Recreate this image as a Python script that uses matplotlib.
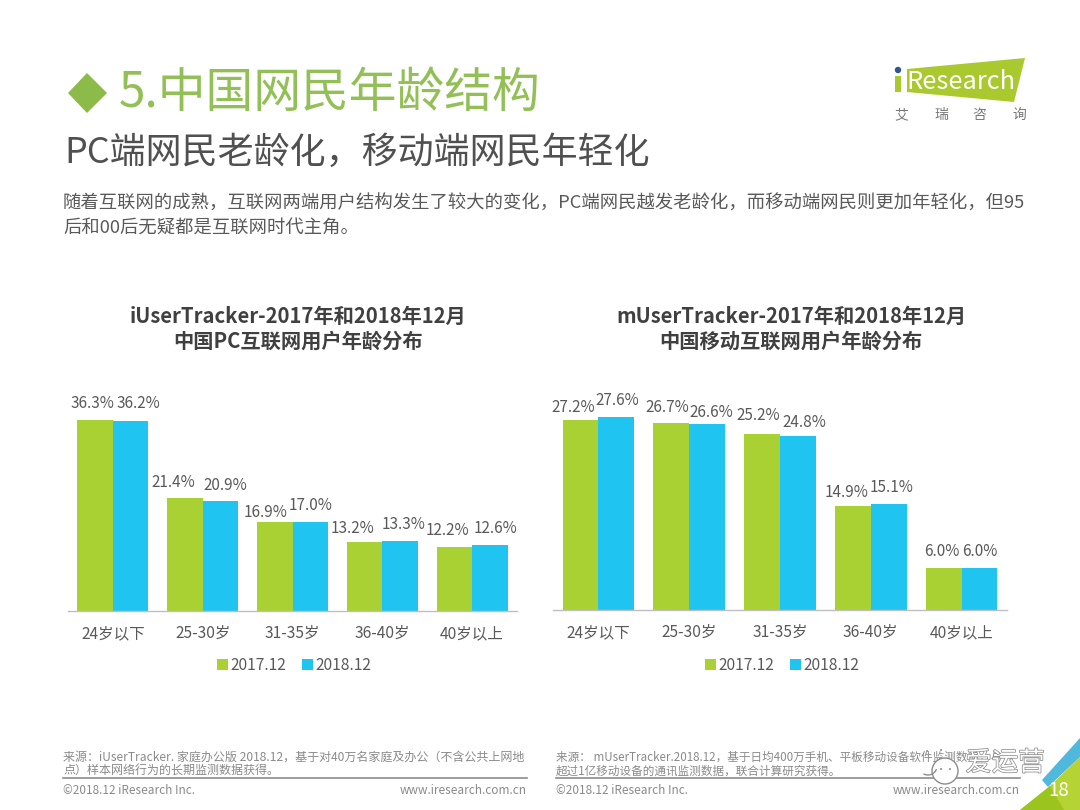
import matplotlib
matplotlib.use('Agg')
import matplotlib.pyplot as plt
import matplotlib.patheffects as pe
import numpy as np
from matplotlib.patches import Polygon, Circle, Arc

plt.rcParams['font.family'] = ['Noto Sans CJK SC', 'DejaVu Sans']

categories = ['24岁以下', '25-30岁', '31-35岁', '36-40岁', '40岁以上']
series_names = ['2017.12', '2018.12']
pc_2017 = [36.3, 21.4, 16.9, 13.2, 12.2]
pc_2018 = [36.2, 20.9, 17.0, 13.3, 12.6]
mobile_2017 = [27.2, 26.7, 25.2, 14.9, 6.0]
mobile_2018 = [27.6, 26.6, 24.8, 15.1, 6.0]
pc_title = 'iUserTracker-2017年和2018年12月\n中国PC互联网用户年龄分布'
mobile_title = 'mUserTracker-2017年和2018年12月\n中国移动互联网用户年龄分布'

GREEN = '#A9D134'
BLUE = '#1FC5F0'
TEXT = '#595959'
W, H = 1080, 810

fig = plt.figure(figsize=(W / 100, H / 100), dpi=100, facecolor='white')

# pixel-space overlay for slide furniture
bg = fig.add_axes([0, 0, 1, 1], zorder=0)
bg.set_xlim(0, W)
bg.set_ylim(H, 0)
bg.axis('off')

bg.add_patch(Polygon([(68, 93), (87, 73), (107, 93), (87, 113)], color='#8CBB4A', lw=0))
bg.text(119, 93, '5.中国网民年龄结构', fontsize=34.4, color='#93C056', va='center', ha='left')
bg.text(64, 153, 'PC端网民老龄化，移动端网民年轻化', fontsize=25.9, color='#505050', va='center', ha='left')
bg.text(63, 204, '随着互联网的成熟，互联网两端用户结构发生了较大的变化，PC端网民越发老龄化，而移动端网民则更加年轻化，但95',
        fontsize=13.2, color=TEXT, va='center', ha='left')
bg.text(63, 229, '后和00后无疑都是互联网时代主角。', fontsize=13.2, color=TEXT, va='center', ha='left')

# logo
bg.add_patch(Polygon([(907, 69), (1025, 58), (1014, 102), (907, 92)], color='#A9C92F', lw=0))
bg.add_patch(Circle((898, 70), 3.2, color='#2F5597', lw=0))
bg.add_patch(Polygon([(895, 76), (901, 76), (901, 92), (895, 92)], color='#A9C92F', lw=0))
bg.text(906, 82, 'Research', fontsize=18.3, color='#FFFFFF', va='center', ha='left')
for x, ch in zip([901, 941, 979, 1019], '艾瑞咨询'):
    bg.text(x, 115, ch, fontsize=10, color='#777777', va='center', ha='center')

# corner decoration
bg.add_patch(Polygon([(1080, 757), (1080, 810), (1020, 810), (1050, 786)], color='#B5D334', lw=0))
bg.add_patch(Polygon([(1020, 810), (1050, 786), (1064, 810)], color='#9CC41F', lw=0))
bg.add_patch(Polygon([(1042, 780), (1080, 738), (1080, 757), (1048, 787)], color='#4FB8DC', lw=0))
bg.text(1059, 791, '18', fontsize=13.5, color='#FFFFFF', va='center', ha='center')

# footers
GREY = '#8A8A8A'
bg.plot([63, 527], [778, 778], color='#8C8C8C', lw=1.2)
bg.plot([556, 1020], [778, 778], color='#8C8C8C', lw=1.2)
bg.text(63, 757, '来源：iUserTracker. 家庭办公版 2018.12，基于对40万名家庭及办公（不含公共上网地', fontsize=8.65, color=GREY, va='center')
bg.text(63, 771, '点）样本网络行为的长期监测数据获得。', fontsize=8.65, color=GREY, va='center')
bg.text(556, 757, '来源： mUserTracker.2018.12，基于日均400万手机、平板移动设备软件监测数据，与', fontsize=8.35, color=GREY, va='center')
bg.text(556, 771, '超过1亿移动设备的通讯监测数据，联合计算研究获得。', fontsize=8.35, color=GREY, va='center')
bg.text(63, 791, '©2018.12 iResearch Inc.', fontsize=8.5, color=GREY, va='center')
bg.text(527, 791, 'www.iresearch.com.cn', fontsize=8.5, color=GREY, va='center', ha='right')
bg.text(556, 791, '©2018.12 iResearch Inc.', fontsize=8.5, color=GREY, va='center')
bg.text(1020, 791, 'www.iresearch.com.cn', fontsize=8.5, color=GREY, va='center', ha='right')

# watermark
bg.add_patch(Circle((945, 771), 13, fc='white', ec='#8C8C8C', lw=1, zorder=3))
bg.add_patch(Arc((928, 766), 18, 18, theta1=20, theta2=120, ec='#8C8C8C', lw=1, zorder=3))
for px, py in [(941, 769), (950, 769), (927, 751), (941, 750)]:
    bg.add_patch(Circle((px, py), 1.0, color='#8C8C8C', lw=0, zorder=3))
bg.text(1005, 763, '爱运营', fontsize=19, color='#FFFFFF', va='center', ha='center', zorder=3,
        path_effects=[pe.Stroke(linewidth=1.1, foreground='#8C8C8C'), pe.Normal()])


def bar_panel(left, right, base_y, top_y, ymax, v1, v2, title, title_x, legend_x, nudges):
    ax = fig.add_axes([left / W, 1 - base_y / H, (right - left) / W, (base_y - top_y) / H], zorder=2)
    ax.patch.set_alpha(0)
    x = np.arange(len(categories))
    w = 0.395
    b1 = ax.bar(x - w / 2, v1, w, color=GREEN, label=series_names[0])
    b2 = ax.bar(x + w / 2, v2, w, color=BLUE, label=series_names[1])
    for bars, vals, nudge in ((b1, v1, nudges[0]), (b2, v2, nudges[1])):
        for r, v, (dx, dy) in zip(bars, vals, nudge):
            # offsets are given in pixels; figure dpi is 100
            ax.annotate(f'{v:.1f}%', (r.get_x() + r.get_width() / 2, v),
                        xytext=(dx * 0.72, 6.5 - dy * 0.72),
                        textcoords='offset points', ha='center', va='bottom',
                        fontsize=11, color=TEXT)
    ax.set_xlim(-0.5, len(categories) - 0.5)
    ax.set_ylim(0, ymax)
    ax.set_yticks([])
    ax.set_xticks(x, categories, fontsize=11.2, color=TEXT)
    ax.tick_params(axis='x', length=0, pad=10)
    for s in ('top', 'left', 'right'):
        ax.spines[s].set_visible(False)
    ax.spines['bottom'].set_color('#BFBFBF')
    ax.spines['bottom'].set_linewidth(1.0)
    bg.text(title_x, 329, title, fontsize=14.6, fontweight='bold', color='#404040',
            ha='center', va='center', linespacing=1.2)
    fig.legend(handles=[b1, b2], labels=series_names, loc='center',
               bbox_to_anchor=(legend_x / W, 1 - 665 / H), ncol=2, frameon=False,
               fontsize=11.2, labelcolor=TEXT, handlelength=0.7, handleheight=0.7,
               handletextpad=0.15, columnspacing=1.05)


pc_nudges = ([(-3, 1), (-12, 2), (-9, 8), (-12, 4), (-7, 1)],
             [(8, 0), (5, 2), (0, 1), (4, 1), (6, 1)])
mobile_nudges = ([(-7, 5), (-4, 2), (-4, -1), (-6, 4), (-2, 1)],
                 [(1, 1), (4, 6), (6, 4), (3, 1), (0, 1)])

bar_panel(68, 517, 611, 390, (611 - 390) / 5.26, pc_2017, pc_2018, pc_title, 298, 294, pc_nudges)
bar_panel(553, 1007, 610, 390, (610 - 390) / 7.0, mobile_2017, mobile_2018, mobile_title, 791, 782, mobile_nudges)

fig.savefig('out.png', dpi=100, facecolor='white')
